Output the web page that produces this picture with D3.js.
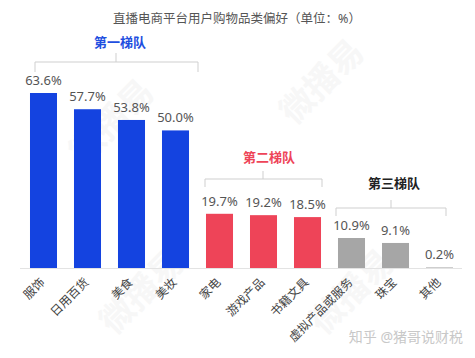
<!DOCTYPE html>
<html><head><meta charset="utf-8">
<script src="https://cdn.jsdelivr.net/npm/d3@7"></script>
<style>body{margin:0;background:#fff;}svg{display:block;font-family:"Noto Sans","Noto Sans CJK SC",sans-serif;}</style>
</head><body>
<svg id="c" width="475" height="358"></svg>
<script>
const categories = ["服饰","日用百货","美食","美妆","家电","游戏产品","书籍文具","虚拟产品或服务","珠宝","其他"];
const values = [63.6,57.7,53.8,50.0,19.7,19.2,18.5,10.9,9.1,0.2];
const tiers = [0,0,0,0,1,1,1,2,2,2];
const tierNames = ["第一梯队","第二梯队","第三梯队"];
const tierColors = ["#1443E0","#EE4458","#A6A6A6"];
const tierLabelColors = ["#1F4FE0","#EE4458","#222222"];
const title = "直播电商平台用户购物品类偏好（单位：%）";

const svg = d3.select("#c");
const baseY = 268;
const x = d3.scaleBand().domain(categories).range([20, 463]).paddingInner(0.386).paddingOuter(0.227);
const y = d3.scaleLinear().domain([0, 63.6]).range([baseY, 93]);

// faint watermark
const wm = svg.append("g").attr("fill","#f7f7f7").attr("font-size",34).attr("font-weight","bold");
[[120,130],[330,90],[150,300],[360,300]].forEach(([a,b])=>{
  wm.append("text").attr("transform",`translate(${a},${b}) rotate(-45)`).attr("text-anchor","middle").text("微播易");
});

svg.append("text").attr("x",237).attr("y",23).attr("text-anchor","middle")
  .attr("font-size",12.5).attr("fill","#555").text(title);

svg.append("line").attr("x1",20).attr("x2",462).attr("y1",baseY+0.5).attr("y2",baseY+0.5)
  .attr("stroke","#e3e3e3").attr("stroke-width",1);

svg.selectAll("rect.bar").data(categories).join("rect").attr("class","bar")
  .attr("x",d=>x(d)).attr("width",x.bandwidth())
  .attr("y",(d,i)=>y(values[i])).attr("height",(d,i)=>baseY-y(values[i]))
  .attr("fill",(d,i)=>tierColors[tiers[i]]);

svg.selectAll("text.val").data(categories).join("text").attr("class","val")
  .attr("x",d=>x(d)+x.bandwidth()/2).attr("y",(d,i)=>y(values[i])-8)
  .attr("text-anchor","middle").attr("font-size",13).attr("fill","#555")
  .text((d,i)=>values[i].toFixed(1)+"%");

svg.selectAll("text.cat").data(categories).join("text").attr("class","cat")
  .attr("transform",d=>`translate(${x(d)+x.bandwidth()/2+2},${baseY+15}) rotate(-45)`)
  .attr("text-anchor","end").attr("font-size",12).attr("fill","#444").text(d=>d);

// brackets
const brackets = [
  {t:0, x1:35, x2:198, yh:62, down:10, cx:116, up:9, lx:120, ly:47},
  {t:1, x1:205, x2:322, yh:179, down:8, cx:263, up:8, lx:269, ly:162},
  {t:2, x1:336, x2:446, yh:208, down:8, cx:391, up:8, lx:394, ly:188}
];
brackets.forEach(b=>{
  const g = svg.append("g").attr("stroke","#cfcfcf").attr("fill","none").attr("stroke-width",1);
  g.append("path").attr("d",`M${b.x1},${b.yh+b.down}V${b.yh}H${b.x2}V${b.yh+b.down}M${b.cx},${b.yh}V${b.yh-b.up}`);
  svg.append("text").attr("x",b.lx).attr("y",b.ly).attr("text-anchor","middle")
    .attr("font-size",13).attr("font-weight","bold").attr("fill",tierLabelColors[b.t]).text(tierNames[b.t]);
});

svg.append("text").attr("x",463).attr("y",342).attr("text-anchor","end")
  .attr("font-size",14).attr("fill","#c8c8c8").text("知乎 @猪哥说财税");
</script>
</body></html>
